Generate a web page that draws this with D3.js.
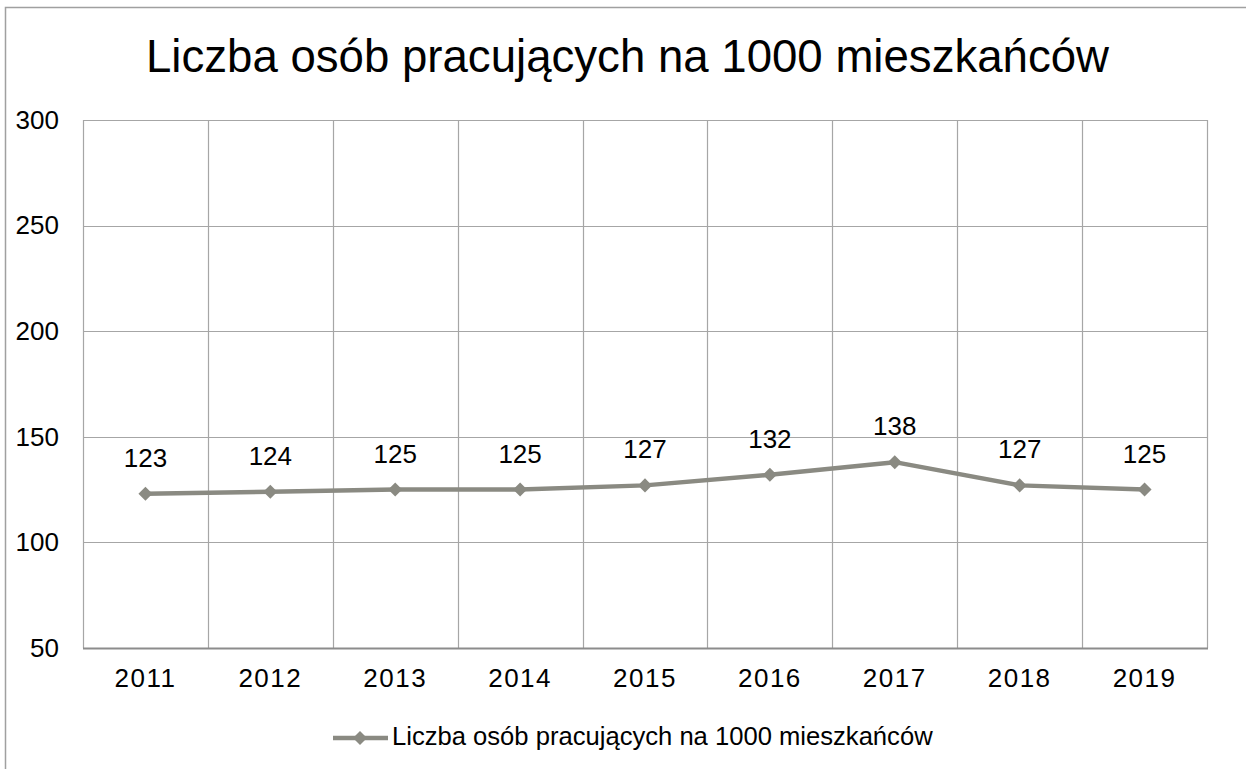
<!DOCTYPE html>
<html><head><meta charset="utf-8">
<script src="https://cdn.jsdelivr.net/npm/d3@7"></script>
<style>
html,body{margin:0;padding:0;background:#fff;}
svg{display:block;}
</style></head>
<body>
<script>
const title = "Liczba osób pracujących na 1000 mieszkańców";
const seriesName = "Liczba osób pracujących na 1000 mieszkańców";
const years = ["2011","2012","2013","2014","2015","2016","2017","2018","2019"];
const values = [123,124,125,125,127,132,138,127,125];
const yTicks = [50,100,150,200,250,300];

const W = 1246, H = 769;
const plot = {left:83, right:1207, top:120, bottom:648};
const lineColor = "#8a8a82";
const gridColor = "#a6a6a6";
const font = "'Liberation Sans', Arial, sans-serif";

const svg = d3.select("body").append("svg").attr("width",W).attr("height",H);

// chart border
svg.append("path").attr("d",`M5.5,${H} V7.5 H${W}`).attr("fill","none").attr("stroke","#a0a0a0").attr("stroke-width",1.5);

const x = d3.scaleBand().domain(years).range([plot.left, plot.right]).padding(0);
const y = d3.scaleLinear().domain([50,300]).range([plot.bottom, plot.top]);

// horizontal grid
svg.append("g").selectAll("line").data(yTicks).join("line")
  .attr("x1",plot.left).attr("x2",plot.right)
  .attr("y1",d=>Math.round(y(d))+0.5).attr("y2",d=>Math.round(y(d))+0.5)
  .attr("stroke",gridColor).attr("stroke-width",1.2);

// vertical grid at category boundaries
const bounds = years.map(d=>x(d)).concat([plot.right]);
svg.append("g").selectAll("line").data(bounds).join("line")
  .attr("x1",d=>Math.round(d)+0.5).attr("x2",d=>Math.round(d)+0.5)
  .attr("y1",plot.top).attr("y2",plot.bottom)
  .attr("stroke",gridColor).attr("stroke-width",1.2);

// bottom axis line
svg.append("line").attr("x1",plot.left).attr("x2",plot.right+1)
  .attr("y1",plot.bottom+0.5).attr("y2",plot.bottom+0.5)
  .attr("stroke","#8c8c8c").attr("stroke-width",2);

// y tick labels
const yAxis = d3.axisLeft(y).tickValues(yTicks).tickSize(0).tickPadding(24);
const yg = svg.append("g").attr("transform",`translate(${plot.left},0)`).call(yAxis);
yg.select(".domain").remove();
yg.selectAll("text").attr("font-family",font).attr("font-size",26).attr("fill","#000");

// x tick labels
const xAxis = d3.axisBottom(x).tickSize(0).tickPadding(21);
const xg = svg.append("g").attr("transform",`translate(0,${plot.bottom})`).call(xAxis);
xg.select(".domain").remove();
xg.selectAll("text").attr("font-family",font).attr("font-size",26).attr("fill","#000")
  .attr("letter-spacing","1.5px");

// line
const line = d3.line().x((d,i)=>x(years[i])+x.bandwidth()/2).y(d=>y(d));
svg.append("path").datum(values).attr("d",line).attr("fill","none")
  .attr("stroke",lineColor).attr("stroke-width",4.5).attr("stroke-linejoin","round");

// markers
const diamond = d3.symbol().type(d3.symbolDiamond2).size(125);
svg.append("g").selectAll("path").data(values).join("path")
  .attr("d",diamond)
  .attr("transform",(d,i)=>`translate(${x(years[i])+x.bandwidth()/2},${y(d)})`)
  .attr("fill",lineColor);

// data labels
svg.append("g").selectAll("text").data(values).join("text")
  .attr("x",(d,i)=>x(years[i])+x.bandwidth()/2)
  .attr("y",d=>y(d)-27)
  .attr("text-anchor","middle")
  .attr("font-family",font).attr("font-size",26).attr("fill","#000")
  .text(d=>d);

// title
svg.append("text").attr("x",627.5).attr("y",72).attr("text-anchor","middle")
  .attr("font-family",font).attr("font-size",45.6).attr("fill","#000").text(title);

// legend
const lg = svg.append("g");
lg.append("line").attr("x1",333).attr("x2",388).attr("y1",738).attr("y2",738)
  .attr("stroke",lineColor).attr("stroke-width",4.5);
lg.append("path").attr("d",diamond).attr("transform","translate(360,738)").attr("fill",lineColor);
lg.append("text").attr("x",392).attr("y",745).attr("font-family",font).attr("font-size",25.6)
  .attr("fill","#000").text(seriesName);
</script>
</body></html>
